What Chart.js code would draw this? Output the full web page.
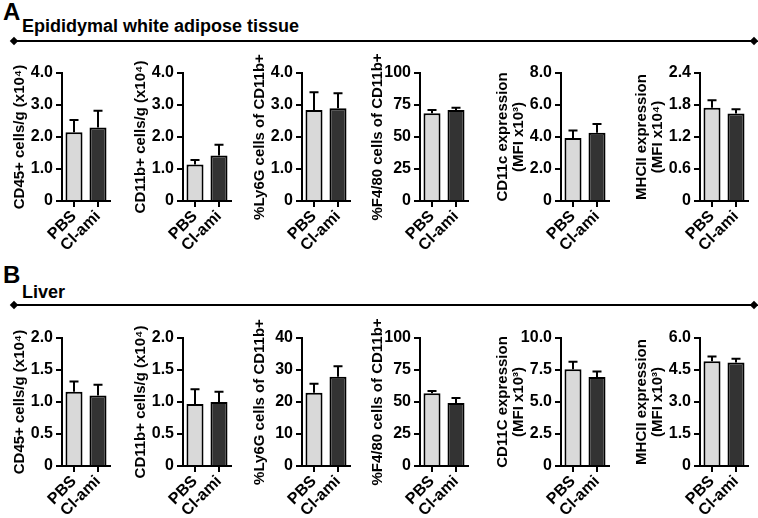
<!DOCTYPE html>
<html>
<head>
<meta charset="utf-8">
<script src="https://cdn.jsdelivr.net/npm/chart.js@4.4.1/dist/chart.umd.min.js"></script>
<style>
    body { margin: 0; background: #fff; }
    #figura { position: relative; width: 758px; height: 518px; overflow: hidden; }
    .panel { position: absolute; }
    .letra { position: absolute; font: bold 24px 'Liberation Sans', Arial, sans-serif; line-height: 1; color: #000; }
    .titulo { position: absolute; font: bold 18px 'Liberation Sans', Arial, sans-serif; line-height: 1; color: #000; white-space: nowrap; }
    .linea { position: absolute; height: 2px; background: #000; }
    .linea::before, .linea::after { content: ''; position: absolute; top: -2px; width: 6px; height: 6px; background: #000; transform: rotate(45deg); }
    .linea::before { left: -3px; }
    .linea::after { right: -3px; }
</style>
</head>
<body>
<div id="figura">
    <div class="letra" style="left:3px; top:0px;">A</div>
    <div class="titulo" style="left:22px; top:17px;">Epididymal white adipose tissue</div>
    <div class="linea" style="left:14px; top:40px; width:740px;"></div>
    <div class="letra" style="left:3px; top:263px;">B</div>
    <div class="titulo" style="left:22px; top:283px;">Liver</div>
    <div class="linea" style="left:14px; top:304px; width:740px;"></div>
</div>
<script>
// Datos del gráfico
const grupos = ['PBS', 'Cl-ami'];

// A: tejido adiposo blanco epididimal
const watTitulos = [
    'CD45+ cells/g (x10⁴)',
    'CD11b+ cells/g (x10⁴)',
    '%Ly6G cells of CD11b+',
    '%F4/80 cells of CD11b+',
    ['CD11c expression', '(MFI x10³)'],
    ['MHCII expression', '(MFI x10⁴)']
];
const watMedias = [[2.15, 2.30], [1.14, 1.42], [2.84, 2.90], [68.5, 71.0], [3.94, 4.27], [1.75, 1.64]];
const watSem = [[0.38, 0.52], [0.14, 0.34], [0.56, 0.47], [2.5, 1.8], [0.47, 0.54], [0.14, 0.08]];
const watTicks = [
    ['0', '1.0', '2.0', '3.0', '4.0'],
    ['0', '1.0', '2.0', '3.0', '4.0'],
    ['0', '1.0', '2.0', '3.0', '4.0'],
    ['0', '25', '50', '75', '100'],
    ['0', '2.0', '4.0', '6.0', '8.0'],
    ['0', '0.6', '1.2', '1.8', '2.4']
];

// B: hígado
const higadoTitulos = [
    'CD45+ cells/g (x10⁴)',
    'CD11b+ cells/g (x10⁴)',
    '%Ly6G cells of CD11b+',
    '%F4/80 cells of CD11b+',
    ['CD11C expression', '(MFI x10³)'],
    ['MHCII expression', '(MFI x10³)']
];
const higadoMedias = [[1.16, 1.10], [0.97, 1.00], [22.9, 27.9], [56.8, 49.2], [7.55, 6.95], [4.91, 4.85]];
const higadoSem = [[0.16, 0.17], [0.23, 0.16], [2.8, 3.3], [1.8, 4.0], [0.60, 0.43], [0.22, 0.18]];
const higadoTicks = [
    ['0', '0.5', '1.0', '1.5', '2.0'],
    ['0', '0.5', '1.0', '1.5', '2.0'],
    ['0', '10', '20', '30', '40'],
    ['0', '25', '50', '75', '100'],
    ['0', '2.5', '5.0', '7.5', '10.0'],
    ['0', '1.5', '3.0', '4.5', '6.0']
];

// Posiciones de los paneles
const ejeX = [62, 183, 302, 420, 561, 700];
const filas = [
    { titulos: watTitulos, medias: watMedias, sem: watSem, ticks: watTicks, top: 44, areaTop: 73, areaBottom: 201, alto: 212 },
    { titulos: higadoTitulos, medias: higadoMedias, sem: higadoSem, ticks: higadoTicks, top: 310, areaTop: 338, areaBottom: 466, alto: 208 }
];

const fuente = "'Liberation Sans', Arial, sans-serif";

// Barras de error (solo la parte superior)
const barrasError = {
    id: 'barrasError',
    afterDatasetsDraw(chart, args, opts) {
        const ctx = chart.ctx;
        const escalaY = chart.scales.y;
        const meta = chart.getDatasetMeta(0);
        ctx.save();
        ctx.strokeStyle = '#000';
        ctx.lineWidth = 2;
        meta.data.forEach((barra, i) => {
            const valor = chart.data.datasets[0].data[i] + opts.sem[i];
            const yErr = escalaY.getPixelForValue(valor);
            ctx.beginPath();
            ctx.moveTo(barra.x, barra.y);
            ctx.lineTo(barra.x, yErr);
            ctx.moveTo(barra.x - 4.5, yErr);
            ctx.lineTo(barra.x + 4.5, yErr);
            ctx.stroke();
        });
        ctx.restore();
    }
};

function crearPanel(fila, i) {
    const figura = document.getElementById('figura');
    const dosLineas = Array.isArray(fila.titulos[i]);
    const anchoY = dosLineas ? 66 : 50;
    const anchoArea = 48;
    const ancho = anchoY + anchoArea + 3;
    const padTop = fila.areaTop - fila.top;
    const altoX = fila.alto - (fila.areaBottom - fila.top);
    const etiquetas = fila.ticks[i];

    const div = document.createElement('div');
    div.className = 'panel';
    div.style.left = (ejeX[i] - anchoY) + 'px';
    div.style.top = fila.top + 'px';
    const canvas = document.createElement('canvas');
    canvas.width = ancho;
    canvas.height = fila.alto;
    div.appendChild(canvas);
    figura.appendChild(div);

    const ejeFont = { family: fuente, size: 16, weight: 'bold' };

    new Chart(canvas, {
        type: 'bar',
        data: {
            labels: grupos,
            datasets: [{
                data: fila.medias[i],
                backgroundColor: ['#d9d9d9', '#333333'],
                borderColor: '#000',
                borderWidth: 2,
                borderSkipped: 'bottom',
                barPercentage: 0.71,
                categoryPercentage: 1
            }]
        },
        options: {
            responsive: false,
            animation: false,
            layout: { padding: { top: padTop, right: 3, left: 0, bottom: 0 } },
            plugins: {
                legend: { display: false },
                tooltip: { enabled: false },
                barrasError: { sem: fila.sem[i] }
            },
            scales: {
                x: {
                    offset: true,
                    afterFit: s => { s.height = altoX; },
                    ticks: { color: '#000', font: ejeFont, minRotation: 45, maxRotation: 45, autoSkip: false, padding: 0 },
                    grid: { offset: false, drawOnChartArea: false, tickLength: 6, color: '#000', lineWidth: 2 },
                    border: { display: true, color: '#000', width: 2 }
                },
                y: {
                    min: 0,
                    max: Number(etiquetas[etiquetas.length - 1]),
                    afterBuildTicks: s => { s.ticks = etiquetas.map(t => ({ value: Number(t) })); },
                    afterFit: s => { s.width = anchoY; },
                    ticks: { color: '#000', font: ejeFont, padding: 3, callback: (v, idx) => etiquetas[idx] },
                    grid: { drawOnChartArea: false, tickLength: 6, color: '#000', lineWidth: 2 },
                    border: { display: true, color: '#000', width: 2 },
                    title: {
                        display: true,
                        text: fila.titulos[i],
                        color: '#000',
                        font: { family: fuente, size: 15, weight: 'bold', lineHeight: 1.05 },
                        padding: 0
                    }
                }
            }
        },
        plugins: [barrasError]
    });
}

document.addEventListener('DOMContentLoaded', () => {
    filas.forEach(fila => {
        fila.titulos.forEach((t, i) => crearPanel(fila, i));
    });
});
</script>
</body>
</html>
